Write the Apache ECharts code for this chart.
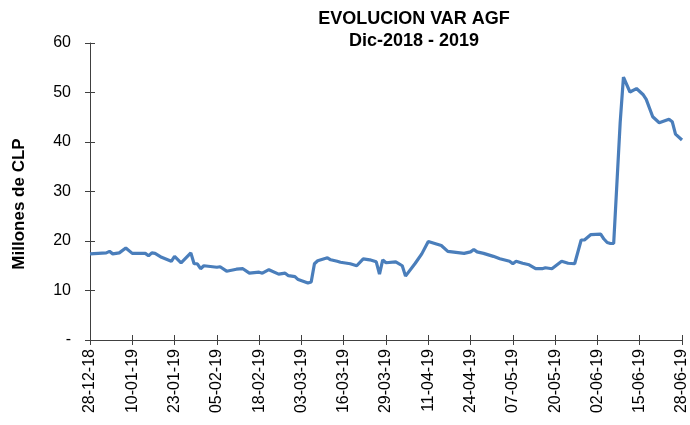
<!DOCTYPE html>
<html><head><meta charset="utf-8">
<script src="https://cdn.jsdelivr.net/npm/echarts@6/dist/echarts.min.js"></script>
<style>html,body{margin:0;padding:0;background:#fff}#c{width:690px;height:425px}</style>
</head><body><div id="c"></div>
<script>
const startDate = '2018-12-28';
const tickLabels = ['28-12-18','10-01-19','23-01-19','05-02-19','18-02-19','03-03-19','16-03-19','29-03-19','11-04-19','24-04-19','07-05-19','20-05-19','02-06-19','15-06-19','28-06-19'];
const dates = ['2018-12-28','2019-01-02','2019-01-03','2019-01-04','2019-01-06','2019-01-08','2019-01-10','2019-01-14','2019-01-15','2019-01-16','2019-01-17','2019-01-19','2019-01-22','2019-01-23','2019-01-25','2019-01-28','2019-01-29','2019-01-30','2019-01-31','2019-02-01','2019-02-05','2019-02-06','2019-02-08','2019-02-11','2019-02-13','2019-02-15','2019-02-18','2019-02-19','2019-02-21','2019-02-24','2019-02-26','2019-02-27','2019-03-01','2019-03-02','2019-03-05','2019-03-06','2019-03-07','2019-03-08','2019-03-11','2019-03-12','2019-03-14','2019-03-15','2019-03-18','2019-03-19','2019-03-20','2019-03-22','2019-03-24','2019-03-26','2019-03-27','2019-03-28','2019-03-29','2019-04-01','2019-04-03','2019-04-04','2019-04-07','2019-04-09','2019-04-11','2019-04-12','2019-04-15','2019-04-17','2019-04-22','2019-04-24','2019-04-25','2019-04-26','2019-04-28','2019-05-01','2019-05-03','2019-05-06','2019-05-07','2019-05-08','2019-05-10','2019-05-12','2019-05-14','2019-05-16','2019-05-17','2019-05-19','2019-05-22','2019-05-24','2019-05-26','2019-05-28','2019-05-29','2019-05-31','2019-06-03','2019-06-04','2019-06-05','2019-06-06','2019-06-07','2019-06-09','2019-06-10','2019-06-12','2019-06-14','2019-06-16','2019-06-17','2019-06-19','2019-06-21','2019-06-24','2019-06-25','2019-06-26','2019-06-28'];
const values = [17.4,17.6,17.9,17.4,17.6,18.6,17.5,17.5,17.0,17.6,17.5,16.7,15.9,16.9,15.6,17.6,15.4,15.4,14.4,15.0,14.7,14.8,13.9,14.3,14.4,13.5,13.7,13.5,14.2,13.3,13.5,13.0,12.8,12.2,11.5,11.7,15.4,16.0,16.6,16.2,15.9,15.7,15.4,15.2,15.0,16.4,16.2,15.8,13.3,16.2,15.6,15.8,15.0,12.9,15.5,17.4,19.9,19.7,19.1,17.9,17.5,17.8,18.3,17.8,17.5,16.9,16.4,15.9,15.4,15.9,15.5,15.2,14.4,14.4,14.6,14.4,15.9,15.5,15.4,20.2,20.2,21.3,21.4,20.4,19.7,19.5,19.5,44.0,53.1,50.1,50.8,49.6,48.6,45.1,43.9,44.6,44.1,41.6,40.4];

const DAY = 86400000;
const t0 = Date.parse(startDate + 'T00:00:00Z');
const seriesData = dates.map((d, i) => [Math.round((Date.parse(d + 'T00:00:00Z') - t0) / DAY), values[i]]);
const step = 13;
const xMax = step * (tickLabels.length - 1);

const FONT = 'Liberation Sans, Arial, sans-serif';
const axisColor = '#404040';

const chart = echarts.init(document.getElementById('c'), null, {renderer: 'canvas'});
chart.setOption({
  animation: false,
  backgroundColor: '#fff',
  title: {
    text: 'EVOLUCION VAR AGF\nDic-2018 - 2019',
    left: 409, top: 3, textAlign: 'center',
    textStyle: {fontFamily: FONT, fontSize: 18, fontWeight: 'bold', color: '#000', lineHeight: 22}
  },
  graphic: [{
    type: 'text', x: 19, y: 204, rotation: Math.PI / 2,
    style: {text: 'Millones de CLP', font: 'bold 17px ' + FONT, fill: '#000', align: 'center', verticalAlign: 'middle'}
  }],
  grid: {left: 90, right: 8, top: 43, bottom: 85, containLabel: false},
  xAxis: [{
    type: 'value', min: 0, max: xMax, interval: step,
    axisLine: {show: true, lineStyle: {color: axisColor, width: 1}},
    axisTick: {show: true, inside: false, length: 5, lineStyle: {color: axisColor}},
    axisLabel: {rotate: 90, margin: 9, fontFamily: FONT, fontSize: 16, color: '#000',
      formatter: v => tickLabels[Math.round(v / step)] || ''},
    splitLine: {show: false}
  }, {
    type: 'value', min: 0, max: xMax, interval: step, position: 'bottom',
    axisLine: {show: false},
    axisTick: {show: true, inside: true, length: 5, lineStyle: {color: axisColor}},
    axisLabel: {show: false}, splitLine: {show: false}
  }],
  yAxis: [{
    type: 'value', min: 0, max: 60, interval: 10,
    axisLine: {show: true, lineStyle: {color: axisColor, width: 1}},
    axisTick: {show: true, inside: false, length: 5, lineStyle: {color: axisColor}},
    axisLabel: {margin: 19, fontFamily: FONT, fontSize: 16, color: '#000',
      formatter: v => v === 0 ? '-' : String(v)},
    splitLine: {show: false}
  }, {
    type: 'value', min: 0, max: 60, interval: 10, position: 'left',
    axisLine: {show: false},
    axisTick: {show: true, inside: true, length: 5, lineStyle: {color: axisColor}},
    axisLabel: {show: false}, splitLine: {show: false}
  }],
  series: [{
    type: 'line', data: seriesData, xAxisIndex: 0, yAxisIndex: 0,
    symbol: 'none', smooth: false,
    lineStyle: {color: '#4a7ebb', width: 3.2}
  }]
});
</script>
</body></html>
